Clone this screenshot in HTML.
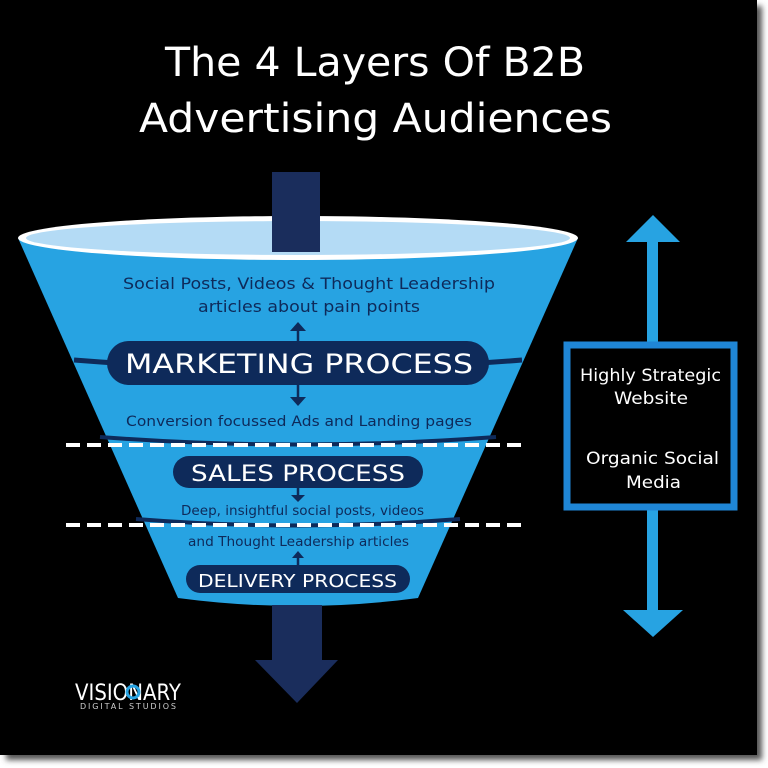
<!DOCTYPE html>
<html><head><meta charset="utf-8"><style>
html,body{margin:0;padding:0;background:#fff;}
svg{display:block}
text{font-family:"DejaVu Sans","Liberation Sans",sans-serif;}
</style></head><body>
<svg width="768" height="768" viewBox="0 0 768 768">
<defs><filter id="sh"><feGaussianBlur stdDeviation="3"/></filter></defs>
<rect x="6" y="6" width="756" height="754" fill="#555" filter="url(#sh)"/>
<rect x="0" y="0" width="757" height="755" fill="#000"/>
<text x="165" y="76" fill="#fff" font-size="40" textLength="420" lengthAdjust="spacingAndGlyphs">The 4 Layers Of B2B</text>
<text x="139" y="132" fill="#fff" font-size="40" textLength="473" lengthAdjust="spacingAndGlyphs">Advertising Audiences</text>
<!-- funnel body -->
<path d="M18 238 L178 598 Q298 614 418 598 L578 238 Z" fill="#27a3e2"/>
<path d="M74 360 Q298 378 522 360" stroke="#0e2a5a" stroke-width="5" fill="none"/>
<path d="M100 437 Q298 452 496 437" stroke="#0e2a5a" stroke-width="4" fill="none"/>
<path d="M136 519 Q298 532 460 519" stroke="#0e2a5a" stroke-width="4" fill="none"/>
<ellipse cx="298" cy="238" rx="280" ry="22" fill="#fff"/>
<ellipse cx="298" cy="238" rx="272" ry="17" fill="#b4dbf5"/>
<rect x="272" y="172" width="48" height="80" fill="#1a2d5c"/>
<rect x="272" y="605" width="50" height="60" fill="#1a2d5c"/>
<polygon points="255,660 338,660 297,703" fill="#1a2d5c"/>
<line x1="66" y1="445" x2="526" y2="445" stroke="#fff" stroke-width="4" stroke-dasharray="14,7"/>
<line x1="66" y1="525" x2="526" y2="525" stroke="#fff" stroke-width="4" stroke-dasharray="14,7"/>
<text x="123" y="289" fill="#0e2a5a" font-size="16" textLength="372" lengthAdjust="spacingAndGlyphs">Social Posts, Videos &amp; Thought Leadership</text>
<text x="198" y="312" fill="#0e2a5a" font-size="16" textLength="222" lengthAdjust="spacingAndGlyphs">articles about pain points</text>
<g fill="#0e2a5a" stroke="#0e2a5a">
<line x1="298" y1="328" x2="298" y2="402" stroke-width="2.5"/>
<polygon points="290,331 306,331 298,322" stroke="none"/>
<polygon points="290,397 306,397 298,406" stroke="none"/>
<line x1="298" y1="486" x2="298" y2="498" stroke-width="2.5"/>
<polygon points="291,495 305,495 298,502" stroke="none"/>
<line x1="298" y1="554" x2="298" y2="565" stroke-width="2.5"/>
<polygon points="292,558 304,558 298,551" stroke="none"/>
</g>
<rect x="107" y="341" width="382" height="44" rx="22" fill="#0e2a5a"/>
<text x="125" y="373" fill="#fff" font-size="27" textLength="348" lengthAdjust="spacingAndGlyphs">MARKETING PROCESS</text>
<text x="126" y="426" fill="#0e2a5a" font-size="14" textLength="346" lengthAdjust="spacingAndGlyphs">Conversion focussed Ads and Landing pages</text>
<rect x="173" y="456" width="250" height="32" rx="16" fill="#0e2a5a"/>
<text x="191" y="481" fill="#fff" font-size="22" textLength="214" lengthAdjust="spacingAndGlyphs">SALES PROCESS</text>
<text x="181" y="515" fill="#0e2a5a" font-size="13" textLength="243" lengthAdjust="spacingAndGlyphs">Deep, insightful social posts, videos</text>
<text x="188" y="546" fill="#0e2a5a" font-size="13" textLength="221" lengthAdjust="spacingAndGlyphs">and Thought Leadership articles</text>
<rect x="186" y="565" width="224" height="28" rx="14" fill="#0e2a5a"/>
<text x="198" y="587" fill="#fff" font-size="18" textLength="199" lengthAdjust="spacingAndGlyphs">DELIVERY PROCESS</text>
<rect x="647" y="238" width="11" height="376" fill="#27a3e2"/>
<polygon points="626,242 680,242 653,215" fill="#27a3e2"/>
<polygon points="623,610 683,610 653,637" fill="#27a3e2"/>
<rect x="567" y="345" width="167" height="162" fill="#000" stroke="#1f86d6" stroke-width="7"/>
<text x="580" y="381" fill="#fff" font-size="17" textLength="141" lengthAdjust="spacingAndGlyphs">Highly Strategic</text>
<text x="614" y="404" fill="#fff" font-size="17" textLength="74" lengthAdjust="spacingAndGlyphs">Website</text>
<text x="586" y="464" fill="#fff" font-size="17" textLength="133" lengthAdjust="spacingAndGlyphs">Organic Social</text>
<text x="626" y="488" fill="#fff" font-size="17" textLength="55" lengthAdjust="spacingAndGlyphs">Media</text>
<text x="75" y="700" fill="#fff" font-size="22" textLength="106" lengthAdjust="spacingAndGlyphs">VISIONARY</text>
<circle cx="133" cy="692" r="6" fill="none" stroke="#27a3e2" stroke-width="3"/>
<text x="80" y="709" fill="#ccc" font-size="8" textLength="96" lengthAdjust="spacing">DIGITAL STUDIOS</text>
</svg>
</body></html>
